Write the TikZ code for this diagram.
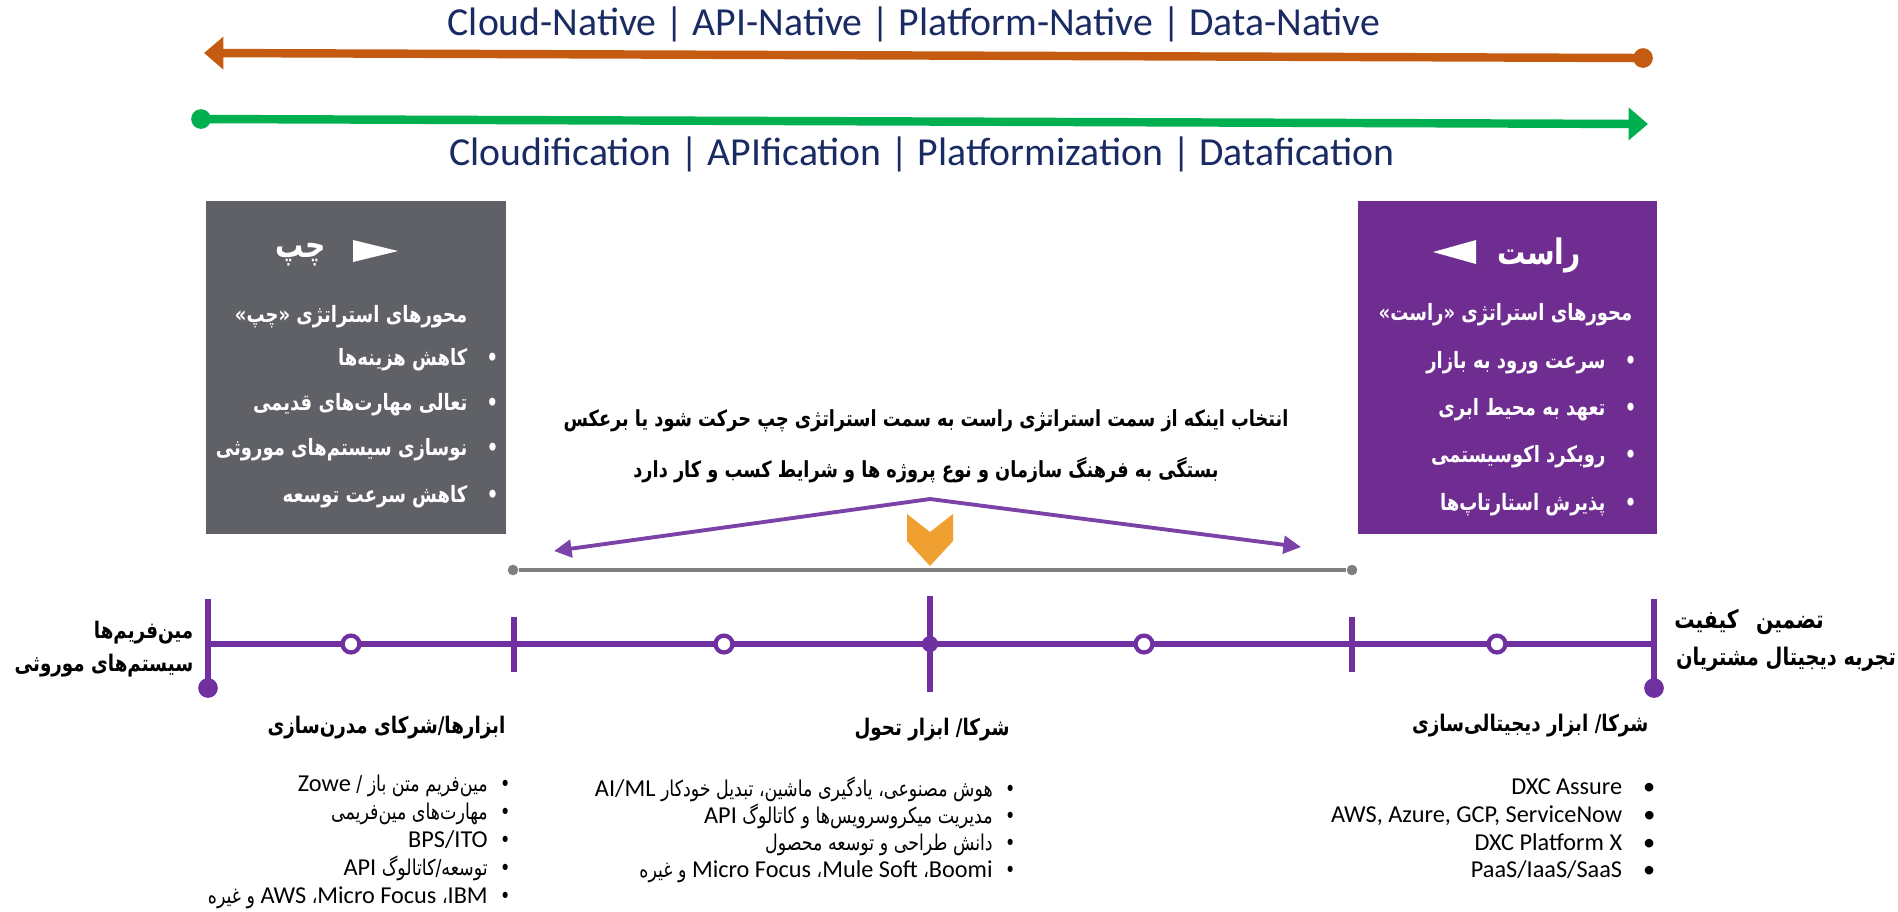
\documentclass[tikz,border=0pt]{standalone}
\usepackage{fontspec}
\setmainfont{Carlito}
\newfontfamily\fafont[Script=Arabic, FakeStretch=0.8]{DejaVu Sans}
\TeXXeTstate=1
\usetikzlibrary{arrows.meta, positioning, calc}

\definecolor{DarkNavy}{HTML}{1A2B63}
\definecolor{RustOrange}{HTML}{C55A11}
\definecolor{BrightGreen}{HTML}{00B050}
\definecolor{SlateGray}{HTML}{5F6166}
\definecolor{RoyalPurple}{HTML}{6F2C91}
\definecolor{LinePurple}{HTML}{7030A0}
\definecolor{ArrowPurple}{HTML}{7B42A8}
\definecolor{AmberGold}{HTML}{F0A030}
\definecolor{RuleGray}{HTML}{7F7F7F}

\newcommand{\rl}[1]{\beginR #1\endR}
\newcommand{\lr}[1]{\beginL{\rmfamily\fontsize{6.9}{8}\selectfont #1}\endL}

\begin{document}
\begin{tikzpicture}[x=0.01cm, y=-0.01cm, >=Triangle,
  banner/.style={font=\fontsize{11.3}{13}\selectfont, text=DarkNavy, inner sep=0pt},
  tipdot/.style={circle, inner sep=0pt, minimum size=5.6pt},
  paneltitle/.style={font=\fafont\bfseries\fontsize{10}{12}\selectfont, text=white, inner sep=0pt},
  panelhead/.style={font=\fafont\bfseries\fontsize{6.4}{8}\selectfont, text=white, inner sep=0pt, anchor=east},
  panelitem/.style={font=\fafont\bfseries\fontsize{6.4}{8}\selectfont, text=white, inner sep=0pt, anchor=east},
  choicetext/.style={font=\fafont\bfseries\fontsize{6.3}{8}\selectfont, inner sep=0pt},
  axislabel/.style={font=\fafont\bfseries\fontsize{6.5}{8}\selectfont, inner sep=0pt},
  listitem/.style={font=\fafont\fontsize{6.2}{8}\selectfont, inner sep=0pt, anchor=base east},
  latinitem/.style={font=\fontsize{6.9}{8}\selectfont, inner sep=0pt, anchor=base east},
  hollowmark/.style={circle, draw=LinePurple, fill=white, line width=1.2pt, inner sep=0pt, minimum size=4.8pt},
  solidmark/.style={circle, fill=LinePurple, inner sep=0pt, minimum size=5.6pt},
  greydot/.style={circle, fill=RuleGray, inner sep=0pt, minimum size=3pt}]
  \useasboundingbox (0,0) rectangle (1898,911);

  % Top banners
  \node[banner] (native) at (914,24) {Cloud-Native | API-Native | Platform-Native | Data-Native};
  \node[tipdot, fill=RustOrange] (nativeDot) at (1643,58) {};
  \coordinate (nativeTip) at (204,53);
  \draw[RustOrange, line width=2.4pt, -{Triangle[length=5.5pt, width=9pt]}] (nativeDot.center) -- (nativeTip);
  \node[tipdot, fill=BrightGreen] (ifyDot) at (201,119) {};
  \coordinate (ifyTip) at (1648,124);
  \draw[BrightGreen, line width=2.4pt, -{Triangle[length=5.5pt, width=9pt]}] (ifyDot.center) -- (ifyTip);
  \node[banner] (ification) at (922,154) {Cloudification | APIfication | Platformization | Datafication};

  % Left panel
  \fill[SlateGray] (206,201) rectangle (506,534);
  \fill[white] (353,240) -- (398,251) -- (353,262) -- cycle;
  \node[paneltitle, anchor=east] (leftTitle) at (326,255) {\rl{چپ}};
  \node[panelhead] (leftHead) at (468,317) {\rl{محورهای استراتژی «چپ»}};
  \node[panelitem] (left1) at (499,360) {\rl{•\hspace{5.5pt}کاهش هزینه‌ها}};
  \node[panelitem] (left2) at (499,405) {\rl{•\hspace{5.5pt}تعالی مهارت‌های قدیمی}};
  \node[panelitem] (left3) at (499,450) {\rl{•\hspace{5.5pt}نوسازی سیستم‌های موروثی}};
  \node[panelitem] (left4) at (499,497) {\rl{•\hspace{5.5pt}کاهش سرعت توسعه}};

  % Right panel
  \fill[RoyalPurple] (1358,201) rectangle (1657,534);
  \fill[white] (1433,252) -- (1476,240) -- (1476,264) -- cycle;
  \node[paneltitle] (rightTitle) at (1539,255) {\rl{راست}};
  \node[panelhead] (rightHead) at (1633,315) {\rl{محورهای استراتژی «راست»}};
  \node[panelitem] (right1) at (1637,363) {\rl{•\hspace{5.5pt}سرعت ورود به بازار}};
  \node[panelitem] (right2) at (1637,410) {\rl{•\hspace{5.5pt}تعهد به محیط ابری}};
  \node[panelitem] (right3) at (1637,457) {\rl{•\hspace{5.5pt}روبکرد اکوسیستمی}};
  \node[panelitem] (right4) at (1637,505) {\rl{•\hspace{5.5pt}پذیرش استارتاپ‌ها}};

  % Choice text and arrows
  \node[choicetext] (choice) at (926,421) {\rl{انتخاب اینکه از سمت استراتژی راست به سمت استراتژی چپ حرکت شود یا برعکس}};
  \node[choicetext] (depends) at (926,470) {\rl{بستگی به فرهنگ سازمان و نوع پروژه ها و شرایط کسب و کار دارد}};
  \coordinate (apex) at (930,499);
  \coordinate (swingL) at (554,551);
  \coordinate (swingR) at (1301,547);
  \draw[ArrowPurple, line width=1.1pt, -{Triangle[length=5pt, width=5pt]}] (apex) -- (swingL);
  \draw[ArrowPurple, line width=1.1pt, -{Triangle[length=5pt, width=5pt]}] (apex) -- (swingR);
  \fill[AmberGold] (907,514) -- (930,532) -- (953,514) -- (953,541) -- (930,566) -- (907,541) -- cycle;

  % Grey span
  \node[greydot] (spanL) at (513,570) {};
  \node[greydot] (spanR) at (1352,570) {};
  \draw[RuleGray, line width=1.1pt] (spanL) -- (spanR);

  % Timeline
  \coordinate (axisL) at (208,644);
  \coordinate (axisR) at (1654,644);
  \draw[LinePurple, line width=1.6pt] (axisL) -- (axisR);
  \node[solidmark] (legacyEnd) at (208,688) {};
  \node[solidmark] (digitalEnd) at (1654,688) {};
  \draw[LinePurple, line width=1.6pt] (208,599) -- (legacyEnd.center);
  \draw[LinePurple, line width=1.6pt] (1654,599) -- (digitalEnd.center);
  \draw[LinePurple, line width=1.6pt] (514,617) -- (514,672);
  \draw[LinePurple, line width=1.6pt] (930,596) -- (930,692);
  \draw[LinePurple, line width=1.6pt] (1352,617) -- (1352,672);
  \node[solidmark, minimum size=4.6pt] (mid) at (930,644) {};
  \node[hollowmark] (m1) at (351,644) {};
  \node[hollowmark] (m2) at (724,644) {};
  \node[hollowmark] (m3) at (1144,644) {};
  \node[hollowmark] (m4) at (1497,644) {};

  % Axis labels
  \node[axislabel, anchor=east] (legacy1) at (194,633) {\rl{مین‌فریم‌ها}};
  \node[axislabel, anchor=east] (legacy2) at (194,666) {\rl{سیستم‌های موروثی}};
  \node[axislabel, font=\fafont\bfseries\fontsize{7.2}{9}\selectfont] (quality1) at (1749,622) {\rl{تضمین\hspace{5pt}کیفیت}};
  \node[axislabel, font=\fafont\bfseries\fontsize{6.9}{9}\selectfont] (quality2) at (1786,659) {\rl{تجربه دیجیتال مشتریان}};
  \node[axislabel, anchor=east] (modern) at (506,728) {\rl{ابزارها/شرکای مدرن‌سازی}};
  \node[axislabel] (transform) at (932,730) {\rl{شرکا/ ابزار تحول}};
  \node[axislabel, anchor=east] (digital) at (1649,726) {\rl{شرکا/ ابزار دیجیتالی‌سازی}};

  % Lists
  \node[listitem] (modern1) at (511,791) {\rl{•\hspace{3.5pt}مین‌فریم متن باز / \lr{Zowe}}};
  \node[listitem] (modern2) at (511,819) {\rl{•\hspace{3.5pt}مهارت‌های مین‌فریمی}};
  \node[listitem] (modern3) at (511,847) {\rl{•\hspace{3.5pt}\lr{BPS/ITO}}};
  \node[listitem] (modern4) at (511,875) {\rl{•\hspace{3.5pt}توسعه/کاتالوگ \lr{API}}};
  \node[listitem] (modern5) at (511,903) {\rl{•\hspace{3.5pt}\lr{IBM}، \lr{Micro Focus}، \lr{AWS} و غیره}};
  \node[listitem] (transform1) at (1016,796) {\rl{•\hspace{3.5pt}هوش مصنوعی، یادگیری ماشین، تبدیل خودکار \lr{AI/ML}}};
  \node[listitem] (transform2) at (1016,823) {\rl{•\hspace{3.5pt}مدیریت میکروسرویس‌ها و کاتالوگ \lr{API}}};
  \node[listitem] (transform3) at (1016,850) {\rl{•\hspace{3.5pt}دانش طراحی و توسعه محصول}};
  \node[listitem] (transform4) at (1016,877) {\rl{•\hspace{3.5pt}\lr{Boomi}، \lr{Mule Soft}، \lr{Micro Focus} و غیره}};
  \node[latinitem] (digital1) at (1656,794) {DXC Assure\hspace{6pt}•};
  \node[latinitem] (digital2) at (1656,822) {AWS, Azure, GCP, ServiceNow\hspace{6pt}•};
  \node[latinitem] (digital3) at (1656,850) {DXC Platform X\hspace{6pt}•};
  \node[latinitem] (digital4) at (1656,877) {PaaS/IaaS/SaaS\hspace{6pt}•};
\end{tikzpicture}
\end{document}
